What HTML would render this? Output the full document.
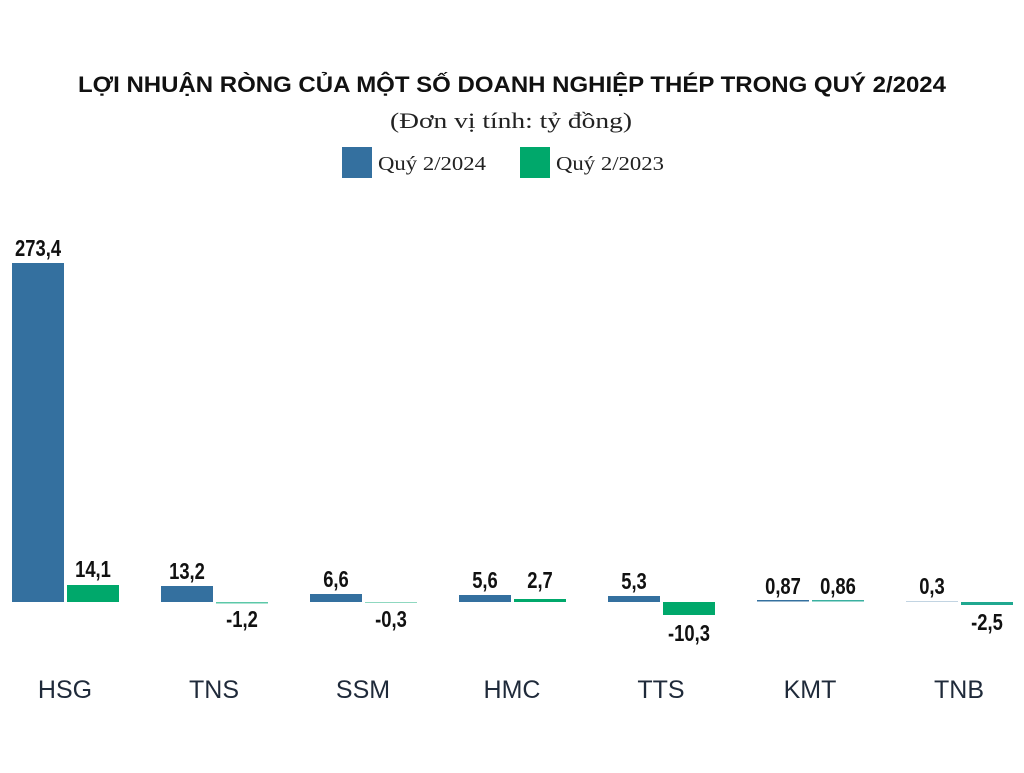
<!DOCTYPE html>
<html><head><meta charset="utf-8"><style>
body{margin:0;background:#fff;width:1024px;height:768px;overflow:hidden}
.v text{transform-box:fill-box;transform-origin:center;transform:scaleX(0.8)}
</style></head><body>
<svg width="1024" height="768" xmlns="http://www.w3.org/2000/svg">
<text x="78" y="92" textLength="868" lengthAdjust="spacingAndGlyphs" font-family="Liberation Sans, sans-serif" font-weight="bold" font-size="22" fill="#111">LỢI NHUẬN RÒNG CỦA MỘT SỐ DOANH NGHIỆP THÉP TRONG QUÝ 2/2024</text>
<text x="390" y="128" textLength="242" lengthAdjust="spacingAndGlyphs" font-family="Liberation Serif, serif" font-size="22" fill="#222">(Đơn vị tính: tỷ đồng)</text>
<rect x="342" y="147" width="30" height="31" fill="#34709f"/>
<text x="378" y="170" textLength="108" lengthAdjust="spacingAndGlyphs" font-family="Liberation Serif, serif" font-size="20" fill="#222">Quý 2/2024</text>
<rect x="520" y="147" width="30" height="31" fill="#00a86b"/>
<text x="556" y="170" textLength="108" lengthAdjust="spacingAndGlyphs" font-family="Liberation Serif, serif" font-size="20" fill="#222">Quý 2/2023</text>
<g fill="#34709f">
<rect x="12" y="263" width="52" height="339"/>
<rect x="161" y="586" width="52" height="16"/>
<rect x="310" y="594" width="52" height="8"/>
<rect x="459" y="595" width="52" height="7"/>
<rect x="608" y="596" width="52" height="6"/>
<rect x="757" y="600" width="52" height="1.5"/>
<rect x="906" y="601" width="52" height="1" opacity="0.3"/>
</g>
<g fill="#00a86b">
<rect x="67" y="585" width="52" height="17"/>
<rect x="216" y="602" width="52" height="1.5" fill="#5cc8a8"/>
<rect x="365" y="602" width="52" height="1" fill="#8fd8c0"/>
<rect x="514" y="599" width="52" height="3"/>
<rect x="663" y="602" width="52" height="13"/>
<rect x="812" y="600" width="52" height="1.5" fill="#3ab0a0"/>
<rect x="961" y="602" width="52" height="3" fill="#20a890"/>
</g>
<g class="v" font-family="Liberation Sans, sans-serif" font-weight="bold" font-size="23" fill="#111" text-anchor="middle">
<text x="38" y="256">273,4</text>
<text x="93" y="577">14,1</text>
<text x="187" y="579">13,2</text>
<text x="242" y="627">-1,2</text>
<text x="336" y="587">6,6</text>
<text x="391" y="627">-0,3</text>
<text x="485" y="588">5,6</text>
<text x="540" y="588">2,7</text>
<text x="634" y="589">5,3</text>
<text x="689" y="641">-10,3</text>
<text x="783" y="594">0,87</text>
<text x="838" y="594">0,86</text>
<text x="932" y="594">0,3</text>
<text x="987" y="630">-2,5</text>
</g>
<g font-family="Liberation Sans, sans-serif" font-size="25" fill="#1f2a3a" text-anchor="middle">
<text x="65" y="698">HSG</text>
<text x="214" y="698">TNS</text>
<text x="363" y="698">SSM</text>
<text x="512" y="698">HMC</text>
<text x="661" y="698">TTS</text>
<text x="810" y="698">KMT</text>
<text x="959" y="698">TNB</text>
</g>
</svg>
</body></html>
